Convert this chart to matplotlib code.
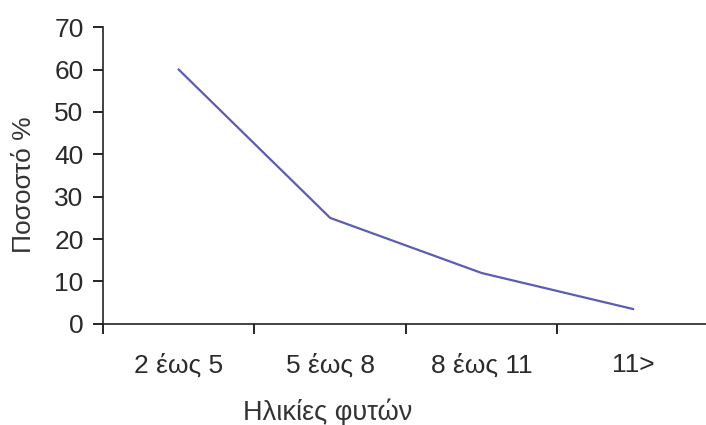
import matplotlib.pyplot as plt

categories = ['2 έως 5', '5 έως 8', '8 έως 11', '11>']
values = [60, 25, 12, 3.5]
yticks = [0, 10, 20, 30, 40, 50, 60, 70]

plt.rcParams['font.family'] = ['Liberation Sans', 'DejaVu Sans']

fig = plt.figure(figsize=(7.06, 4.25), dpi=100)
ax = fig.add_axes([0.1459, 0.238, 0.858, 0.698])

x = list(range(len(categories)))
ax.plot(x, values, color='#5a5db4', linewidth=1.6)

ax.set_xlim(-0.5, len(categories) - 0.5)
ax.set_ylim(0, 70)
ax.set_yticks(yticks)
ax.set_xticks([i - 0.5 for i in range(len(categories) + 1)], minor=False)
ax.set_xticklabels([])
ax.set_xticks(x, minor=True)
ax.set_xticklabels(categories, minor=True)

ax.tick_params(axis='x', which='major', direction='out', length=7, width=1.2)
ax.tick_params(axis='x', which='minor', length=0, pad=21, labelsize=19,
               labelcolor='#2a2a2a')
ax.tick_params(axis='y', direction='out', length=7, width=1.2, pad=7,
               labelsize=19, labelcolor='#2a2a2a')

for s in ['top', 'right']:
    ax.spines[s].set_visible(False)
for s in ['left', 'bottom']:
    ax.spines[s].set_linewidth(1.2)
    ax.spines[s].set_color('#222222')

ax.set_ylabel('Ποσοστό %', fontsize=19, color='#333333')
ax.set_xlabel('Ηλικίες φυτών', fontsize=19.5, color='#333333')
ax.xaxis.set_label_coords(0.37, -0.25)
ax.yaxis.set_label_coords(-0.11, 0.47)

fig.savefig('out.png', dpi=100)
